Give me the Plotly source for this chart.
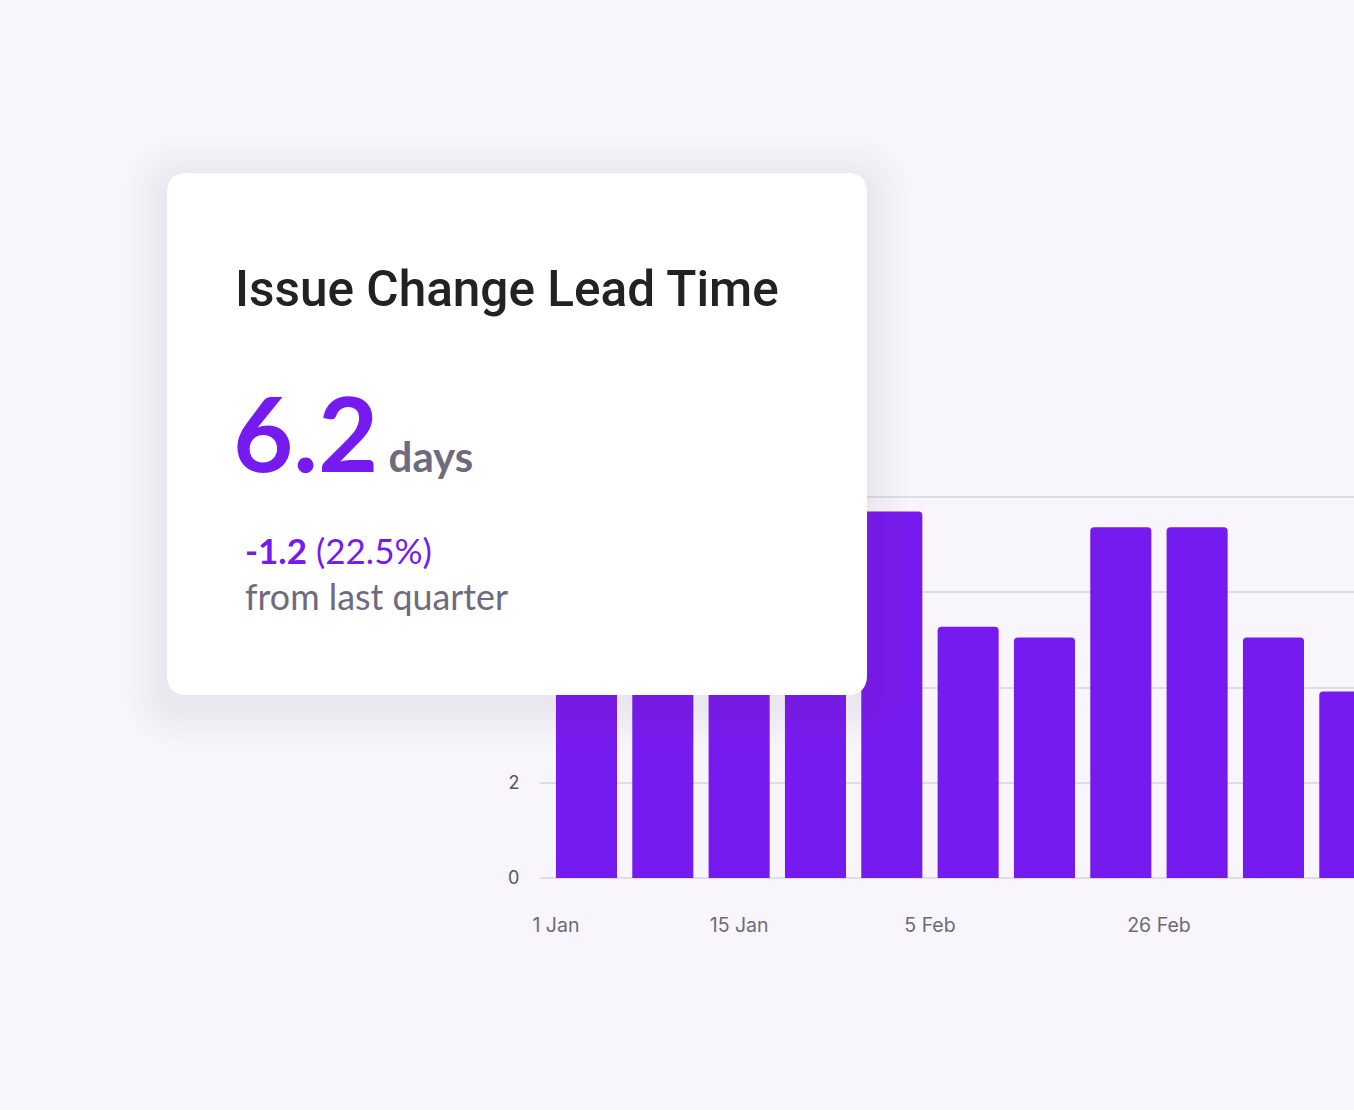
import plotly.graph_objects as go

# weekly lead time (days); the first four bars sit behind the card
weeks = ["1 Jan", "8 Jan", "15 Jan", "22 Jan", "29 Jan", "5 Feb",
         "12 Feb", "19 Feb", "26 Feb", "4 Mar", "11 Mar"]
lead_days = [6.1, 5.5, 7.2, 6.6, 7.7, 5.28, 5.05, 7.37, 7.37, 5.05, 3.92]

y_ticks = [0, 2, 4, 6, 8]
x_tick_labels = ["1 Jan", "15 Jan", "5 Feb", "26 Feb"]
x_tick_vals = [-0.4, 2, 4.5, 7.5]

card_title = "Issue Change Lead Time"
headline = "6.2"
unit = "days"
delta = "-1.2"
delta_pct = "22.5%"
caption = "from last quarter"

PURPLE = "#761BF0"
BG = "#F8F6FC"
GREY_TXT = "#6E6A80"

# plot area in page pixels (1354 x 1110 page)
L, R, T, B = 540, 1354, 480, 878
W, H = R - L, B - T


def px(x):
    return (x - L) / W


def py(y):
    return (B - y) / H


def rounded_rect(x0, y0, x1, y1, r):
    # page-pixel rounded rectangle -> svg path in paper coords
    pts = [
        ("M", [(x0 + r, y0)]),
        ("L", [(x1 - r, y0)]),
        ("Q", [(x1, y0), (x1, y0 + r)]),
        ("L", [(x1, y1 - r)]),
        ("Q", [(x1, y1), (x1 - r, y1)]),
        ("L", [(x0 + r, y1)]),
        ("Q", [(x0, y1), (x0, y1 - r)]),
        ("L", [(x0, y0 + r)]),
        ("Q", [(x0, y0), (x0 + r, y0)]),
    ]
    out = ""
    for cmd, coords in pts:
        out += cmd + " ".join(f"{px(a):.5f},{py(b):.5f}" for a, b in coords) + " "
    return out + "Z"


fig = go.Figure(go.Bar(
    x=list(range(len(lead_days))),
    y=lead_days,
    customdata=weeks,
    marker=dict(color=PURPLE, cornerradius=4, line=dict(width=0)),
    hovertemplate="%{customdata}: %{y} days<extra></extra>",
))

# card with soft shadow
cx0, cy0, cx1, cy1 = 167, 173, 867, 695
shapes = []
for k in range(14, 0, -1):
    s = k * 3
    shapes.append(dict(
        type="path", xref="paper", yref="paper", layer="above",
        path=rounded_rect(cx0 - s, cy0 - s + 8, cx1 + s, cy1 + s + 10, 20 + s),
        fillcolor="rgba(105,100,150,0.009)", line=dict(width=0),
    ))
shapes.append(dict(
    type="path", xref="paper", yref="paper", layer="above",
    path=rounded_rect(cx0, cy0, cx1, cy1, 20),
    fillcolor="white", line=dict(width=0),
))

annotations = [
    dict(text=card_title, x=px(233), y=py(289), xanchor="left", yanchor="middle",
         font=dict(family="Roboto", size=49.5, color="#222222", weight=500)),
    dict(text=(f"<span style='font-size:104px'>{headline}</span>"
               f"<span style='font-size:42px;color:{GREY_TXT}'> {unit}</span>"),
         x=px(231), y=py(431), xanchor="left", yanchor="middle",
         font=dict(family="Lato", size=104, color=PURPLE, weight=700)),
    dict(text=f"<b>{delta}</b> ({delta_pct})", x=px(243), y=py(550),
         xanchor="left", yanchor="middle",
         font=dict(family="Lato", size=35, color=PURPLE)),
    dict(text=caption, x=px(243), y=py(596), xanchor="left", yanchor="middle",
         font=dict(family="Lato", size=35.8, color=GREY_TXT)),
]
for a in annotations:
    a.update(xref="paper", yref="paper", showarrow=False)

fig.update_layout(
    width=1354, height=1110,
    paper_bgcolor=BG, plot_bgcolor=BG,
    margin=dict(l=L, r=1354 - R, t=T, b=1110 - B),
    bargap=0.2,
    showlegend=False,
    shapes=shapes,
    annotations=annotations,
    xaxis=dict(
        range=[-0.609, 10.055], tickvals=x_tick_vals, ticktext=x_tick_labels,
        showgrid=False, zeroline=False, showline=False,
        ticks="outside", ticklen=30, tickcolor="rgba(0,0,0,0)",
        tickfont=dict(family="Inter", size=19.5, color="#6B6B75"),
    ),
    yaxis=dict(
        range=[0, 8.36], tickvals=y_ticks,
        showgrid=True, gridcolor="#DEDCE5", gridwidth=1.5,
        zeroline=True, zerolinecolor="#DEDCE5", zerolinewidth=1.5,
        showline=False,
        ticks="outside", ticklen=16, tickcolor="rgba(0,0,0,0)",
        tickfont=dict(family="Inter", size=18, color="#55555F"),
    ),
)

fig.write_html(
    "out.html",
    config={"displayModeBar": False},
    post_script="document.body.style.margin='0';document.body.style.background='#F8F6FC';",
)
